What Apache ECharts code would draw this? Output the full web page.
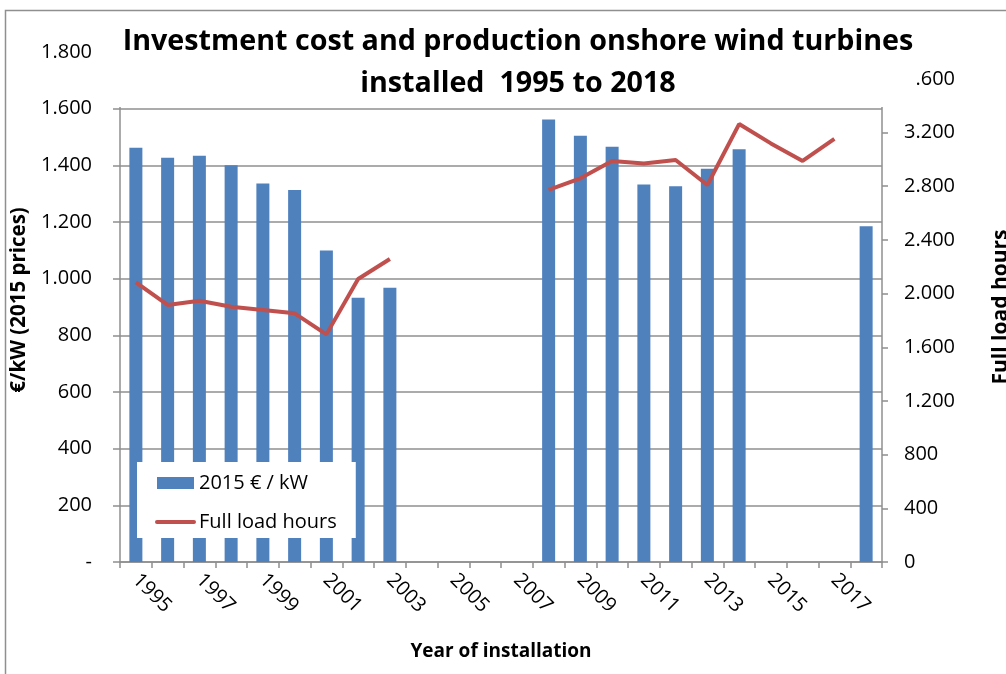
<!DOCTYPE html>
<html>
<head>
<meta charset="utf-8">
<script src="https://cdn.jsdelivr.net/npm/echarts@6/dist/echarts.min.js"></script>
<style>
  html, body { margin: 0; padding: 0; background: #fff; }
  #chart { width: 1006px; height: 674px; }
</style>
</head>
<body>
<div id="chart"></div>
<script>
// Installation years (category axis)
const years = ['1995','1996','1997','1998','1999','2000','2001','2002','2003','2004','2005','2006',
               '2007','2008','2009','2010','2011','2012','2013','2014','2015','2016','2017','2018'];

// Investment cost, 2015 euro per kW (null = no data)
const costPerKw = [1462, 1427, 1434, 1400, 1336, 1313, 1099, 933, 968, null, null, null,
                   null, 1562, 1504, 1466, 1332, 1326, 1388, 1457, null, null, null, 1185];

// Full load hours per year (null = no data)
const fullLoadHours = [2084, 1915, 1947, 1902, 1878, 1853, 1696, 2109, 2258, null, null, null,
                       null, 2772, 2859, 2988, 2970, 2995, 2809, 3263, 3119, 2988, 3152, null];

const FONT = '"Open Sans", "DejaVu Sans", sans-serif';
const GRAY = '#8f8f8f';

// 1234 -> "1.234"
function dotThousands(v) {
  return String(Math.round(v)).replace(/\B(?=(\d{3})+(?!\d))/g, '.');
}

const chart = echarts.init(document.getElementById('chart'), null, { renderer: 'canvas' });

chart.setOption({
  animation: false,
  backgroundColor: '#ffffff',
  textStyle: { fontFamily: FONT },
  title: {
    text: 'Investment cost and production onshore wind turbines\ninstalled  1995 to 2018',
    left: 513,
    top: 16,
    textAlign: 'center',
    z: 100,
    textStyle: {
      fontFamily: FONT,
      fontWeight: 'bold',
      fontSize: 28.7,
      lineHeight: 42,
      color: '#000'
    }
  },
  graphic: [
    // outer chart frame
    {
      type: 'rect',
      z: 1,
      shape: { x: 5.5, y: 10.5, width: 1200, height: 800 },
      style: { fill: null, stroke: GRAY, lineWidth: 1.5 }
    },
    // white title box lying over the top of the plot
    {
      type: 'rect',
      z: 50,
      shape: { x: 100, y: 12, width: 816, height: 95 },
      style: { fill: '#ffffff', stroke: null }
    }
  ],
  legend: {
    orient: 'vertical',
    left: 137,
    top: 462,
    z: 20,
    backgroundColor: '#ffffff',
    padding: [11, 19, 6, 18],
    itemGap: 19,
    itemWidth: 37,
    itemHeight: 12,
    textStyle: { fontFamily: FONT, fontSize: 20, color: '#000' },
    data: [
      { name: '2015 € / kW', icon: 'rect' },
      {
        name: 'Full load hours',
        itemStyle: { color: 'rgba(0,0,0,0)', borderWidth: 0 },
        lineStyle: { width: 4, cap: 'round' }
      }
    ]
  },
  grid: {
    left: 120, right: 124, top: 52, bottom: 112,
    containLabel: false,
    outerBoundsMode: 'none'
  },
  xAxis: {
    type: 'category',
    data: years,
    boundaryGap: true,
    name: 'Year of installation',
    nameLocation: 'middle',
    nameGap: 80,
    nameTextStyle: { fontFamily: FONT, fontWeight: 'bold', fontSize: 19, color: '#000' },
    axisLine: { lineStyle: { color: GRAY, width: 1.5 } },
    axisTick: { show: true, length: 6, alignWithLabel: false, interval: 0, lineStyle: { color: GRAY, width: 1.5 } },
    axisLabel: {
      interval: 1,
      rotate: -45,
      margin: 15,
      fontFamily: FONT,
      fontSize: 20,
      color: '#000'
    },
    splitLine: { show: false }
  },
  yAxis: [
    {
      type: 'value',
      min: 0,
      max: 1800,
      interval: 200,
      name: '€/kW (2015 prices)',
      nameLocation: 'middle',
      nameRotate: 90,
      nameGap: 83,
      nameTextStyle: {
        fontFamily: FONT, fontWeight: 'bold', fontSize: 20.5, color: '#000',
        padding: [0, 0, 0, 14]
      },
      axisLine: { show: true, lineStyle: { color: GRAY, width: 1.5 } },
      axisTick: { show: true, length: 7, lineStyle: { color: GRAY, width: 1.5 } },
      axisLabel: {
        margin: 28,
        fontFamily: FONT,
        fontSize: 20,
        color: '#000',
        formatter: v => (v === 0 ? '-' : dotThousands(v))
      },
      splitLine: { show: true, lineStyle: { color: GRAY, width: 1.5 } }
    },
    {
      type: 'value',
      position: 'right',
      min: 0,
      max: 3800,
      interval: 400,
      name: 'Full load hours',
      nameLocation: 'middle',
      nameRotate: 90,
      nameGap: 109,
      nameTextStyle: { fontFamily: FONT, fontWeight: 'bold', fontSize: 21, color: '#000' },
      axisLine: { show: true, lineStyle: { color: GRAY, width: 1.5 } },
      axisTick: { show: true, length: 6, lineStyle: { color: GRAY, width: 1.5 } },
      axisLabel: {
        margin: 22,
        fontFamily: FONT,
        fontSize: 20,
        color: '#000',
        formatter: v => (v > 3600 ? '' : dotThousands(v))
      },
      splitLine: { show: false }
    }
  ],
  series: [
    {
      name: '2015 € / kW',
      type: 'bar',
      yAxisIndex: 0,
      data: costPerKw,
      barWidth: 13,
      itemStyle: { color: '#4F81BD' },
      z: 2
    },
    {
      name: 'Full load hours',
      type: 'line',
      yAxisIndex: 1,
      data: fullLoadHours,
      symbol: 'none',
      connectNulls: false,
      lineStyle: { color: '#C0504D', width: 4 },
      itemStyle: { color: '#C0504D' },
      z: 3
    }
  ]
});
</script>
</body>
</html>
